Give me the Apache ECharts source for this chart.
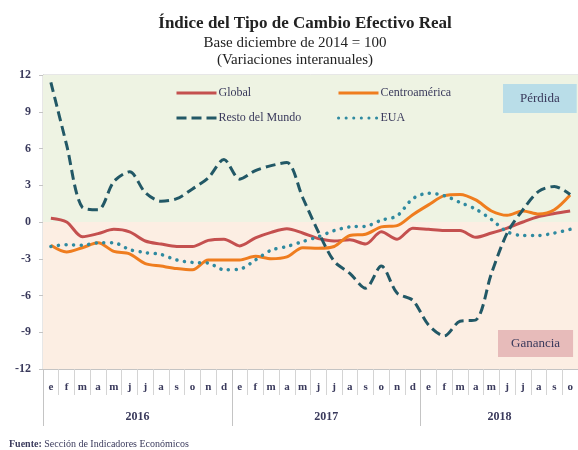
<!DOCTYPE html>
<html>
<head>
<meta charset="utf-8">
<script src="https://cdn.jsdelivr.net/npm/echarts@6/dist/echarts.min.js"></script>
<style>
  html, body { margin: 0; padding: 0; background: #fff; }
  #chart { width: 578px; height: 450px; }
</style>
</head>
<body>
<div id="chart"></div>
<script>
const months = ['e','f','m','a','m','j','j','a','s','o','n','d',
  'e','f','m','a','m','j','j','a','s','o','n','d',
  'e','f','m','a','m','j','j','a','s','o'];
// year label sits at the boundary in the middle of each year
const yearLabelAt = { 5: '2016', 17: '2017', 28: '2018' };

const global = [0.3, 0.0, -1.2, -0.95, -0.6, -0.8, -1.55, -1.8, -2.0, -2.0, -1.5, -1.4,
  -1.95, -1.3, -0.85, -0.55, -0.9, -1.35, -1.55, -1.45, -1.8, -0.8, -1.4, -0.5,
  -0.6, -0.7, -0.7, -1.25, -0.9, -0.5, 0.0, 0.45, 0.7, 0.9];
const centroamerica = [-1.9, -2.45, -2.1, -1.7, -2.4, -2.6, -3.4, -3.6, -3.8, -3.9, -3.1, -3.1,
  -3.1, -2.8, -3.0, -2.85, -2.1, -2.15, -2.0, -1.1, -1.0, -0.4, -0.3, 0.6,
  1.4, 2.15, 2.25, 1.8, 0.9, 0.55, 0.9, 0.65, 1.0, 2.2];
const restoMundo = [11.4, 6.3, 1.2, 1.0, 3.3, 4.1, 2.4, 1.7, 1.9, 2.7, 3.6, 5.1,
  3.5, 4.2, 4.6, 4.85, 2.0, -0.8, -3.2, -4.2, -5.4, -3.6, -5.8, -6.4,
  -8.4, -9.3, -8.1, -8.0, -4.2, -0.9, 1.0, 2.5, 2.9, 2.25];
const eua = [-2.0, -1.85, -1.9, -1.7, -1.7, -2.25, -2.5, -2.65, -3.1, -3.3, -3.35, -3.9,
  -3.85, -3.1, -2.3, -2.0, -1.6, -1.2, -0.7, -0.4, -0.35, 0.15, 0.5, 1.9,
  2.35, 2.15, 1.6, 1.05, 0.2, -0.8, -1.1, -1.1, -0.9, -0.6];

const serif = '"Liberation Serif", "DejaVu Serif", serif';
const ink = '#3a3a5c';

const chart = echarts.init(document.getElementById('chart'));

const legendBase = {
  orient: 'vertical',
  top: 82,
  itemWidth: 40, itemHeight: 14, itemGap: 13,
  itemStyle: { opacity: 0 },
  lineStyle: { width: 3 },
  textStyle: { fontFamily: serif, fontSize: 12, color: ink, padding: [0, 0, 0, -3] }
};

chart.setOption({
  animation: false,
  textStyle: { fontFamily: serif },
  title: [
    {
      text: 'Índice del Tipo de Cambio Efectivo Real',
      left: 300, top: 10, textAlign: 'center',
      textStyle: { fontFamily: serif, fontSize: 17, fontWeight: 'bold', color: '#222' }
    },
    {
      text: 'Base diciembre de 2014 = 100\n(Variaciones interanuales)',
      left: 290, top: 30, textAlign: 'center',
      textStyle: { fontFamily: serif, fontSize: 15, fontWeight: 'normal', color: '#222', lineHeight: 17 }
    },
    {
      text: 'Pérdida',
      left: 503, top: 84,
      padding: [8, 17, 8, 17],
      backgroundColor: '#b9dde8',
      textStyle: { fontFamily: serif, fontSize: 13, fontWeight: 'normal', color: ink }
    },
    {
      text: 'Ganancia',
      left: 498, top: 330,
      padding: [7, 13, 7, 13],
      backgroundColor: '#e7bbba',
      textStyle: { fontFamily: serif, fontSize: 13, fontWeight: 'normal', color: ink }
    },
    {
      text: '{b|Fuente:} Sección de Indicadores Económicos',
      left: 4, top: 434,
      textStyle: {
        fontFamily: serif, fontSize: 10, fontWeight: 'normal', color: ink,
        rich: { b: { fontFamily: serif, fontSize: 10, fontWeight: 'bold', color: ink } }
      }
    }
  ],
  legend: [
    Object.assign({}, legendBase, { data: ['Global', 'Resto del Mundo'], left: 170 }),
    Object.assign({}, legendBase, { data: ['Centroamérica', 'EUA'], left: 332 })
  ],
  grid: {
    left: 43, right: 0, top: 75, bottom: 81,
    show: true, borderColor: '#cfcfcf', borderWidth: 1
  },
  xAxis: [
    {
      type: 'category',
      data: months,
      position: 'bottom',
      axisLine: { onZero: false, lineStyle: { color: '#c4c4c4' } },
      axisTick: { show: true, interval: 0, length: 26, lineStyle: { color: '#d4d4d4' } },
      axisLabel: { interval: 0, margin: 13, fontFamily: serif, fontSize: 11, fontWeight: 'bold', color: ink }
    },
    {
      type: 'category',
      data: months,
      position: 'bottom',
      axisLine: { onZero: false, show: false },
      axisTick: {
        show: true, length: 57,
        interval: (i) => i % 12 === 0,
        lineStyle: { color: '#c4c4c4' }
      },
      axisLabel: {
        interval: 0, margin: 42,
        formatter: (v, i) => yearLabelAt[i] || '',
        padding: [0, 0, 0, 16],
        fontFamily: serif, fontSize: 12, fontWeight: 'bold', color: ink
      }
    },
    {
      type: 'category',
      data: months,
      axisLine: { onZero: true, lineStyle: { color: '#c4c4c4' } },
      axisTick: { show: true, interval: 0, length: 5, lineStyle: { color: '#c4c4c4' } },
      axisLabel: { show: false }
    }
  ],
  yAxis: {
    type: 'value',
    min: -12, max: 12, interval: 3,
    axisLine: { show: true, lineStyle: { color: '#c4c4c4' } },
    axisTick: { show: true, length: 4, lineStyle: { color: '#c4c4c4' } },
    splitLine: { show: false },
    axisLabel: { margin: 12, fontFamily: serif, fontSize: 12, fontWeight: 'bold', color: ink }
  },
  series: [
    {
      name: 'Global',
      type: 'line',
      data: global,
      symbol: 'none',
      smooth: 0.3,
      z: 3,
      lineStyle: { color: '#c4504f', width: 3 },
      itemStyle: { color: '#c4504f' },
      markArea: {
        silent: true,
        z: 1,
        data: [
          [{ yAxis: 0, itemStyle: { color: '#eef3e3' } }, { yAxis: 12 }],
          [{ yAxis: -12, itemStyle: { color: '#fceee3' } }, { yAxis: 0 }]
        ]
      }
    },
    {
      name: 'Centroamérica',
      type: 'line',
      data: centroamerica,
      symbol: 'none',
      smooth: 0.3,
      z: 3,
      lineStyle: { color: '#ef7d1f', width: 3 },
      itemStyle: { color: '#ef7d1f' }
    },
    {
      name: 'Resto del Mundo',
      type: 'line',
      data: restoMundo,
      symbol: 'none',
      smooth: 0.3,
      z: 4,
      lineStyle: { color: '#225866', width: 3, type: [10, 5] },
      itemStyle: { color: '#225866' }
    },
    {
      name: 'EUA',
      type: 'line',
      data: eua,
      symbol: 'none',
      smooth: 0.3,
      z: 4,
      lineStyle: { color: '#2f8aa0', width: 3.5, type: [0.1, 7.5], cap: 'round' },
      itemStyle: { color: '#2f8aa0' }
    }
  ]
});
</script>
</body>
</html>
